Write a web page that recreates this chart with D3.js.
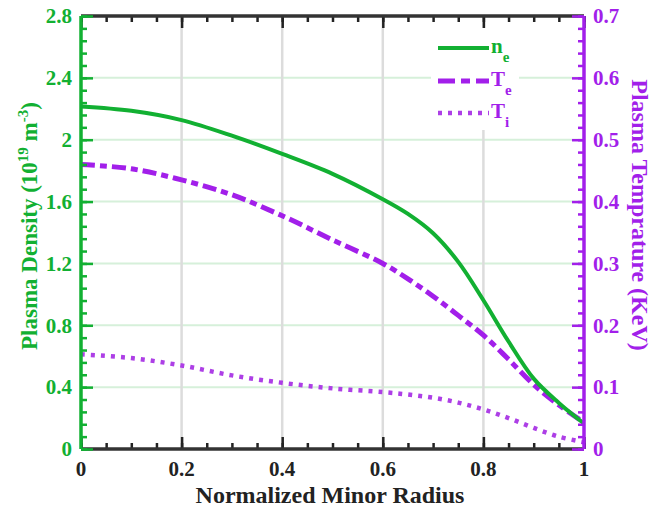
<!DOCTYPE html>
<html>
<head>
<meta charset="utf-8">
<script src="https://cdn.jsdelivr.net/npm/d3@7"></script>
<style>
  html, body { margin: 0; padding: 0; background: #fff; }
  svg { display: block; }
  text { font-family: "Liberation Serif", "Times New Roman", serif; font-weight: bold; }
</style>
</head>
<body>
<svg id="chart" width="653" height="508"></svg>
<script>
// Radial profiles along the normalized minor radius
const radius   = [0, 0.1, 0.2, 0.3, 0.4, 0.5, 0.6, 0.65, 0.7, 0.75, 0.8, 0.85, 0.9, 0.95, 1.0];
const density  = [2.215, 2.187, 2.127, 2.026, 1.908, 1.779, 1.615, 1.520, 1.395, 1.210, 0.962, 0.695, 0.455, 0.298, 0.165]; // 10^19 m^-3
const electronTemp = [0.460, 0.453, 0.435, 0.411, 0.377, 0.338, 0.300, 0.275, 0.247, 0.216, 0.184, 0.145, 0.104, 0.071, 0.043]; // keV
const ionTemp  = [0.153, 0.147, 0.135, 0.119, 0.107, 0.098, 0.092, 0.088, 0.083, 0.075, 0.064, 0.050, 0.034, 0.020, 0.011]; // keV

const xTicks = [0, 0.2, 0.4, 0.6, 0.8, 1];
const leftTicks = [0, 0.4, 0.8, 1.2, 1.6, 2, 2.4, 2.8];
const rightTicks = [0, 0.1, 0.2, 0.3, 0.4, 0.5, 0.6, 0.7];
const seriesNames = ["n", "T", "T"];
const seriesSubs = ["e", "e", "i"];

const green = "#12b032";
const purple = "#a21fea";
const purpleLight = "#ad3fe6";

const margin = { left: 81, right: 69, top: 16, bottom: 59 };
const W = 653, H = 508;
const svg = d3.select("#chart");

const x = d3.scaleLinear().domain([0, 1]).range([margin.left, W - margin.right]);
const yL = d3.scaleLinear().domain([0, 2.8]).range([H - margin.bottom, margin.top]);
const yR = d3.scaleLinear().domain([0, 0.7]).range([H - margin.bottom, margin.top]);

// grid: light green horizontals, grey verticals
svg.append("g").selectAll("line").data(leftTicks.slice(1, -1)).join("line")
  .attr("x1", x(0)).attr("x2", x(1))
  .attr("y1", d => yL(d)).attr("y2", d => yL(d))
  .attr("stroke", "#d6f0da").attr("stroke-width", 2);
svg.append("g").selectAll("line").data(xTicks.slice(1, -1)).join("line")
  .attr("x1", d => x(d)).attr("x2", d => x(d))
  .attr("y1", yL(0)).attr("y2", yL(2.8))
  .attr("stroke", "#dcdcdc").attr("stroke-width", 2.5);

// curves
const lineOf = (scale) => d3.line().x((d, i) => x(radius[i])).y(d => scale(d)).curve(d3.curveCatmullRom.alpha(0.5));
svg.append("path").datum(ionTemp).attr("d", lineOf(yR))
  .attr("fill", "none").attr("stroke", purpleLight).attr("stroke-width", 4.5)
  .attr("stroke-dasharray", "4,6");
svg.append("path").datum(electronTemp).attr("d", lineOf(yR))
  .attr("fill", "none").attr("stroke", purple).attr("stroke-width", 5)
  .attr("stroke-dasharray", "14,5,7,5");
svg.append("path").datum(density).attr("d", lineOf(yL))
  .attr("fill", "none").attr("stroke", green).attr("stroke-width", 4);

// axes
const fmt = d => (d === 0 ? "0" : d3.format("~g")(d));
function styleAxis(g, color) {
  g.select(".domain").remove();
  g.selectAll(".tick line").attr("stroke", color).attr("stroke-width", 2.5);
}
function styleFrame(g) {
  g.select(".domain").remove();
  g.selectAll("line").attr("stroke", "#222").attr("stroke-width", 2.5);
}

// bottom and top frame (black)
const minorX = d3.range(0, 1.0001, 0.05);
const bottomAxis = svg.append("g").attr("transform", `translate(0,${yL(0)})`);
bottomAxis.append("g").call(d3.axisTop(x).tickValues(minorX).tickSize(6).tickFormat("")).call(styleFrame);
bottomAxis.append("g").call(d3.axisTop(x).tickValues(xTicks).tickSize(12).tickFormat("")).call(styleFrame);
bottomAxis.append("line").attr("x1", x(0)).attr("x2", x(1)).attr("stroke", "#333").attr("stroke-width", 3.5);
bottomAxis.append("g").selectAll("text").data(xTicks).join("text")
  .attr("x", d => x(d)).attr("y", 27).attr("text-anchor", "middle")
  .attr("font-size", 21).attr("fill", "#222").text(fmt);

const topAxis = svg.append("g").attr("transform", `translate(0,${yL(2.8)})`);
topAxis.append("g").call(d3.axisBottom(x).tickValues(minorX).tickSize(6).tickFormat("")).call(styleFrame);
topAxis.append("g").call(d3.axisBottom(x).tickValues(xTicks).tickSize(12).tickFormat("")).call(styleFrame);
topAxis.append("line").attr("x1", x(0)).attr("x2", x(1)).attr("stroke", "#333").attr("stroke-width", 3.5);

// left axis (green)
const leftAxis = svg.append("g").attr("transform", `translate(${x(0)},0)`);
leftAxis.append("g").call(d3.axisRight(yL).tickValues(d3.range(0, 2.8001, 0.08)).tickSize(6).tickFormat(""))
  .call(g => styleAxis(g, green));
leftAxis.append("g").call(d3.axisRight(yL).tickValues(leftTicks).tickSize(12).tickFormat(""))
  .call(g => styleAxis(g, green));
leftAxis.append("line").attr("y1", yL(0)).attr("y2", yL(2.8)).attr("stroke", green).attr("stroke-width", 3.5);
leftAxis.append("g").selectAll("text").data(leftTicks).join("text")
  .attr("x", -9).attr("y", d => yL(d)).attr("dy", "0.35em").attr("text-anchor", "end")
  .attr("font-size", 21).attr("fill", green).text(fmt);

// right axis (purple)
const rightAxis = svg.append("g").attr("transform", `translate(${x(1)},0)`);
rightAxis.append("g").call(d3.axisLeft(yR).tickValues(d3.range(0, 0.7001, 0.02)).tickSize(6).tickFormat(""))
  .call(g => styleAxis(g, purple));
rightAxis.append("g").call(d3.axisLeft(yR).tickValues(rightTicks).tickSize(12).tickFormat(""))
  .call(g => styleAxis(g, purple));
rightAxis.append("line").attr("y1", yR(0)).attr("y2", yR(0.7)).attr("stroke", purple).attr("stroke-width", 3.5);
rightAxis.append("g").selectAll("text").data(rightTicks).join("text")
  .attr("x", 9).attr("y", d => yR(d)).attr("dy", "0.35em").attr("text-anchor", "start")
  .attr("font-size", 21).attr("fill", purple).text(fmt);

// axis titles
svg.append("text").attr("x", 330).attr("y", 503).attr("text-anchor", "middle")
  .attr("font-size", 24).attr("fill", "#222").text("Normalized Minor Radius");

const lt = svg.append("text").attr("transform", "translate(37,226) rotate(-90)")
  .attr("text-anchor", "middle").attr("font-size", 23).attr("fill", green);
lt.append("tspan").text("Plasma Density (10");
lt.append("tspan").attr("dy", -9).attr("font-size", 15).text("19");
lt.append("tspan").attr("dy", 9).text(" m");
lt.append("tspan").attr("dy", -9).attr("font-size", 15).text("-3");
lt.append("tspan").attr("dy", 9).text(")");

svg.append("text").attr("transform", "translate(632,215) rotate(90)")
  .attr("text-anchor", "middle").attr("font-size", 24).attr("fill", purple)
  .text("Plasma Temprature (KeV)");

// legend
const legend = svg.append("g");
legend.append("rect").attr("x", 431).attr("y", 28).attr("width", 88).attr("height", 102).attr("fill", "#fff");
const legendRows = [
  { color: green, width: 4, dash: null, y: 48 },
  { color: purple, width: 5, dash: "17,6,9,6", y: 81 },
  { color: purpleLight, width: 4.5, dash: "4,6", y: 113 }
];
legendRows.forEach((r, i) => {
  legend.append("line").attr("x1", 438).attr("x2", 489).attr("y1", r.y).attr("y2", r.y)
    .attr("stroke", r.color).attr("stroke-width", r.width).attr("stroke-dasharray", r.dash);
  const t = legend.append("text").attr("x", 491).attr("y", r.y + 4.5).attr("font-size", 21)
    .attr("fill", i === 0 ? green : purple);
  t.append("tspan").text(seriesNames[i]);
  t.append("tspan").attr("dy", 9).attr("font-size", 15).text(seriesSubs[i]);
});
</script>
</body>
</html>
